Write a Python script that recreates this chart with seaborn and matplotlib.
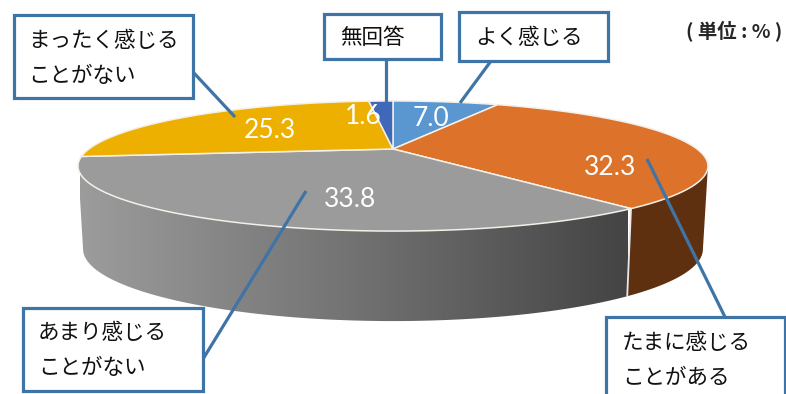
import numpy as np
import matplotlib
matplotlib.use("Agg")
import matplotlib.pyplot as plt
from matplotlib.patches import Polygon, Rectangle
import seaborn as sns

# Survey answers, clockwise from twelve o'clock
values = [7.0, 32.3, 33.8, 25.3, 1.6]
value_labels = ["7.0", "32.3", "33.8", "25.3", "1.6"]
top_colors = ["#5A96D0", "#DD722A", "#9B9B9B", "#EDAF00", "#3F68B8"]
side_colors = ["#3A6A9A", "#5F3010", None, "#A07500", "#2A4A80"]
value_positions = [(431, 118), (610, 167), (350, 199), (270, 130), (363, 116)]

callout_texts = ["よく感じる", "たまに感じる\nことがある", "あまり感じる\nことがない",
                 "まったく感じる\nことがない", "無回答"]
callout_boxes = [(459, 12, 608, 61), (606, 317, 785, 402), (23, 308, 203, 391),
                 (14, 15, 193, 98), (324, 14, 441, 59)]
callout_text_xy = [(475, 38), (622, 343), (38, 333), (28, 41), (340, 38)]
leader_lines = [((491, 61), (460, 103)), ((725, 317), (647, 159)), ((203, 359), (306, 191)),
                ((193, 72), (235, 117)), ((386, 59), (386, 102))]
line_gap = 35
unit_label = "( 単位 : % )"

# Disc projection: centre, radius, squash and perspective strength
CX, CY, RX, RY, PERSP = 393.0, 149.0, 304.0, 60.6, 0.2615

sns.set_theme(style="white")
plt.rcParams["font.family"] = ["Noto Sans CJK JP", "DejaVu Sans"]


def project(theta):
    """Map clockwise angles from the top onto the tilted top face."""
    u, v = np.sin(theta), np.cos(theta)
    s = 1.0 / (1.0 + PERSP * v)
    return CX + RX * u * s, CY - RY * v * s, s


def project_bottom(theta):
    """Lower rim: slightly narrower and a little deeper towards the viewer."""
    x, y, s = project(theta)
    return CX + 0.984 * (x - CX), y + 56.7 + 24.6 * s


fig = plt.figure(figsize=(7.86, 3.94), dpi=100)
ax = fig.add_axes([0, 0, 1, 1])
ax.set_xlim(0, 786)
ax.set_ylim(394, 0)
ax.axis("off")

edges = np.concatenate([[0.0], np.cumsum(values)]) / np.sum(values) * 2 * np.pi
arcs = [np.linspace(a, b, 200) for a, b in zip(edges[:-1], edges[1:])]

# Only the part of the rim facing the viewer shows a wall; its limits are
# the points where the projected rim reaches its widest x
wall_start = np.arccos(-PERSP)
wall_end = 2 * np.pi - wall_start

# Outer wall: each visible slice gets a band between its upper and lower rim
shade = sns.blend_palette(["#9C9C9C", "#727272", "#444444"], as_cmap=True)
for a, b, color in zip(edges[:-1], edges[1:], side_colors):
    lo, hi = max(a, wall_start), min(b, wall_end)
    if lo >= hi:
        continue
    arc = np.linspace(lo, hi, 200)
    xt, yt, _ = project(arc)
    xb, yb = project_bottom(arc)
    band = np.column_stack([np.r_[xt, xb[::-1]], np.r_[yt, yb[::-1]]])
    if color is None:
        patch = Polygon(band, closed=True, facecolor="none", edgecolor="none", zorder=1)
        ax.add_patch(patch)
        img = ax.imshow(np.linspace(0, 1, 256)[None, :], cmap=shade, aspect="auto",
                        extent=(80, 628, 394, 0), zorder=1)
        img.set_clip_path(patch)
    else:
        ax.fill(band[:, 0], band[:, 1], color=color, lw=0, zorder=1)
ax.set_xlim(0, 786)
ax.set_ylim(394, 0)

# Seam on the wall between the orange and grey slices
seam = edges[2]
sx, sy, _ = project(seam)
bx, by = project_bottom(seam)
ax.plot([sx, bx], [sy, by], color="#E8E8E8", lw=1.3, zorder=2)

# Top faces with white separators
for arc, color in zip(arcs, top_colors):
    x, y, _ = project(arc)
    ax.fill(np.r_[CX, x], np.r_[CY, y], facecolor=color, edgecolor="#F4F0E8",
            lw=1.1, joinstyle="miter", zorder=3)

# Percent values printed on the slices
for label, (x, y) in zip(value_labels, value_positions):
    ax.text(x, y, label, color="white", fontsize=19, family="Lato",
            ha="center", va="center", zorder=4)

# Callout leaders, then the boxes on top of them
LINE = "#3F74A6"
for start, end in leader_lines:
    ax.plot([start[0], end[0]], [start[1], end[1]], color=LINE, lw=2.3,
            solid_capstyle="butt", zorder=5)
for (x0, y0, x1, y1), text, (tx, ty) in zip(callout_boxes, callout_texts, callout_text_xy):
    ax.add_patch(Rectangle((x0, y0), x1 - x0, y1 - y0, facecolor="white",
                           edgecolor=LINE, lw=2.3, joinstyle="miter", zorder=6))
    for i, line in enumerate(text.split("\n")):
        ax.text(tx, ty + i * line_gap, line, fontsize=15.5, color="#111111",
                ha="left", va="center", zorder=7)

ax.text(686, 31, unit_label, fontsize=14, fontweight="bold", color="#262626",
        ha="left", va="center", zorder=7)

fig.savefig("out.png", dpi=100)
